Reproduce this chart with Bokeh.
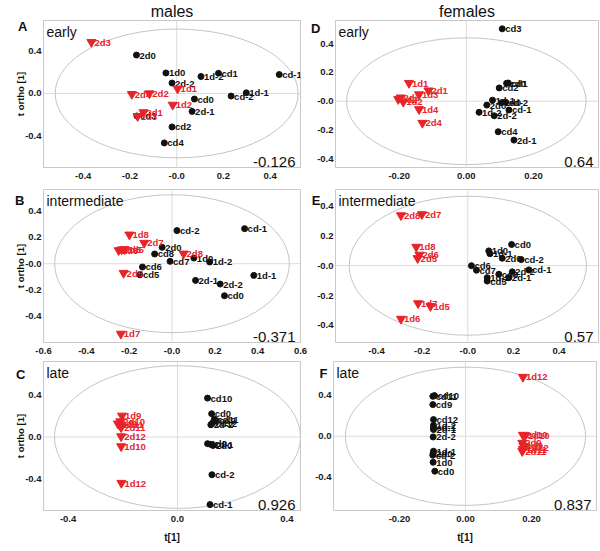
import math
from bokeh.plotting import figure
from bokeh.models import Range1d, FixedTicker, Span, Label, ColumnDataSource, LinearAxis
from bokeh.layouts import row, column
from bokeh.embed import file_html
from bokeh.resources import INLINE
from bokeh.core.properties import value

FONT = "Liberation Sans"
RED = "#e8232a"
BLACK = "#111111"

# ---------------- data ----------------
# Panel A: males, early
A_ctrl_lab = ["2d0", "1d0", "1d-2", "cd1", "cd-1", "2d-2", "cd-2", "1d-1", "cd0", "2d-1", "cd3", "cd2", "cd4"]
A_ctrl_x = [-0.172, -0.046, 0.104, 0.179, 0.439, -0.020, 0.233, 0.298, 0.076, 0.066, -0.170, -0.020, -0.053]
A_ctrl_y = [0.358, 0.191, 0.158, 0.188, 0.176, 0.097, -0.024, 0.006, -0.052, -0.167, -0.210, -0.312, -0.461]
A_trt_lab = ["2d3", "2d4", "2d2", "1d1", "1d2", "2d1", "1d3"]
A_trt_x = [-0.365, -0.192, -0.117, 0.004, -0.017, -0.142, -0.167]
A_trt_y = [0.479, -0.006, 0.000, 0.045, -0.106, -0.176, -0.212]

# Panel B: males, intermediate
B_ctrl_lab = ["cd-1", "cd-2", "2d0", "cd8", "cd7", "1d0", "1d-2", "cd6", "cd5", "2d-1", "2d-2", "1d-1", "cd0"]
B_ctrl_x = [0.339, 0.023, -0.046, -0.081, -0.009, 0.102, 0.176, -0.138, -0.150, 0.110, 0.225, 0.382, 0.245]
B_ctrl_y = [0.267, 0.252, 0.125, 0.074, 0.018, 0.043, 0.013, -0.025, -0.084, -0.127, -0.155, -0.089, -0.244]
B_trt_lab = ["1d8", "2d7", "1d6", "2d6", "1d5", "2d8", "2d5", "1d7"]
B_trt_x = [-0.199, -0.130, -0.249, -0.235, -0.222, 0.054, -0.226, -0.239]
B_trt_y = [0.221, 0.158, 0.102, 0.108, 0.110, 0.076, -0.071, -0.534]

# Panel C: males, late
C_ctrl_lab = ["cd10", "cd0", "cd11", "cd9", "cd12", "2d-2", "1d0", "1d-1", "2d0", "cd-2", "cd-1"]
C_ctrl_x = [0.110, 0.125, 0.135, 0.142, 0.128, 0.122, 0.110, 0.122, 0.130, 0.126, 0.119]
C_ctrl_y = [0.371, 0.222, 0.170, 0.155, 0.133, 0.117, -0.063, -0.070, -0.080, -0.359, -0.644]
C_trt_lab = ["1d9", "2d10", "2d9", "1d11", "2d11", "2d12", "1d10", "1d12"]
C_trt_x = [-0.203, -0.209, -0.218, -0.212, -0.206, -0.206, -0.206, -0.205]
C_trt_y = [0.203, 0.149, 0.128, 0.115, 0.092, 0.006, -0.089, -0.438]

# Panel D: females, early
D_ctrl_lab = ["cd3", "cd0", "cd1", "cd2", "1d-1", "2d0", "1d0", "cd-2", "1d-2", "2d-2", "cd-1", "cd4", "2d-1"]
D_ctrl_x = [0.107, 0.120, 0.125, 0.098, 0.078, 0.061, 0.105, 0.117, 0.038, 0.083, 0.127, 0.095, 0.142]
D_ctrl_y = [0.502, 0.124, 0.126, 0.092, 0.007, -0.027, -0.010, -0.007, -0.077, -0.101, -0.061, -0.212, -0.270]
D_trt_lab = ["1d1", "2d1", "1d3", "2d3", "2d2", "1d2", "1d4", "2d4"]
D_trt_x = [-0.171, -0.113, -0.141, -0.196, -0.203, -0.188, -0.141, -0.131]
D_trt_y = [0.126, 0.074, 0.047, 0.025, 0.014, -0.005, -0.056, -0.151]

# Panel E: females, intermediate
E_ctrl_lab = ["cd0", "1d0", "1d-1", "2d0", "cd-2", "cd6", "cd7", "2d-2", "cd-1", "cd8", "1d-2", "cd5", "2d-1"]
E_ctrl_x = [0.192, 0.092, 0.097, 0.151, 0.234, 0.016, 0.038, 0.195, 0.268, 0.136, 0.085, 0.085, 0.180]
E_ctrl_y = [0.142, 0.099, 0.080, 0.050, 0.041, 0.000, -0.030, -0.041, -0.028, -0.057, -0.080, -0.103, -0.080]
E_trt_lab = ["2d8", "2d7", "1d8", "2d6", "2d5", "1d7", "1d5", "1d6"]
E_trt_x = [-0.293, -0.201, -0.226, -0.212, -0.220, -0.218, -0.164, -0.293]
E_trt_y = [0.337, 0.344, 0.126, 0.073, 0.050, -0.252, -0.271, -0.356]

# Panel F: females, late
F_ctrl_lab = ["cd11", "cd10", "cd9", "cd12", "1d-2", "cd-1", "2d-1", "2d-2", "1d-1", "2d0", "cd-2", "1d0", "cd0"]
F_ctrl_x = [-0.099, -0.094, -0.099, -0.097, -0.097, -0.097, -0.097, -0.098, -0.097, -0.098, -0.099, -0.098, -0.093]
F_ctrl_y = [0.390, 0.397, 0.309, 0.163, 0.107, 0.085, 0.065, -0.007, -0.146, -0.169, -0.185, -0.254, -0.341]
F_trt_lab = ["1d12", "2d10", "1d10", "2d9", "1d9", "2d12", "1d11", "2d11"]
F_trt_x = [0.174, 0.174, 0.180, 0.172, 0.176, 0.178, 0.174, 0.172]
F_trt_y = [0.579, 0.013, 0.005, -0.065, -0.095, -0.105, -0.125, -0.146]

# Ellipse semi-axes (Hotelling T2) per panel
ELL_A = [0.52, 0.60]
ELL_B = [0.548, 0.525]
ELL_C = [0.45, 0.68]
ELL_D = [0.357, 0.44]
ELL_E = [0.52, 0.465]
ELL_F = [0.364, 0.675]

# Axis ranges
XR = {"A": (-0.57, 0.53), "B": (-0.6, 0.6), "C": (-0.49, 0.45),
      "D": (-0.39, 0.394), "E": (-0.58, 0.573), "F": (-0.40, 0.397)}
YR = {"A": (-0.69, 0.68), "B": (-0.60, 0.565), "C": (-0.70, 0.72),
      "D": (-0.46, 0.56), "E": (-0.514, 0.51), "F": (-0.725, 0.73)}

# Tick values / labels
TICK_5 = [-0.4, -0.2, 0.0, 0.2, 0.4]
TICK_5_LAB = ["-0.4", "-0.2", "-0.0", "0.2", "0.4"]
TICK_7 = [-0.6, -0.4, -0.2, 0.0, 0.2, 0.4, 0.6]
TICK_7_LAB = ["-0.6", "-0.4", "-0.2", "-0.0", "0.2", "0.4", "0.6"]
TICK_3 = [-0.4, 0.0, 0.4]
TICK_3_LAB = ["-0.4", "0.0", "0.4"]
TICK_3F = [-0.2, 0.0, 0.2]
TICK_3F_LAB = ["-0.20", "0.00", "0.20"]

Q_VALUES = {"A": "-0.126", "B": "-0.371", "C": "0.926", "D": "0.64", "E": "0.57", "F": "0.837"}
PHASES = {"A": "early", "B": "intermediate", "C": "late", "D": "early", "E": "intermediate", "F": "late"}
COL_TITLES = ["males", "females"]

# ---------------- geometry ----------------
COLS = [dict(bl=43, fw=257, br=8), dict(bl=25, fw=263, br=3)]
ROWS = [dict(bt=19, fh=147, bb=22), dict(bt=0, fh=153, bb=19), dict(bt=0, fh=149, bb=40)]
# panel letter: (standoff relative to outer edge of main y axis, px below frame top)
LETTER_POS = {"A": (-15, 6), "B": (-12, 11), "C": (-13, 13), "D": (-6, 8), "E": (-6, 11), "F": (-15, 12)}


def style_axis(ax, t, tl):
    ax.ticker = FixedTicker(ticks=t)
    ax.major_label_overrides = {v: s for v, s in zip(t, tl)}
    ax.axis_line_color = None
    ax.major_tick_line_color = None
    ax.minor_tick_line_color = None
    ax.major_tick_out = 0
    ax.major_tick_in = 0
    ax.major_label_text_font = FONT
    ax.major_label_text_font_style = "bold"
    ax.major_label_text_font_size = "9.5px"
    ax.major_label_text_color = "#1a1a1a"
    ax.axis_label_text_font = FONT
    ax.axis_label_text_font_style = "bold"
    ax.axis_label_text_color = BLACK


def make_panel(key, ci, ri, ctrl, trt, ell, xt, xtl, yt, ytl):
    c, r = COLS[ci], ROWS[ri]
    xs, xe = XR[key]
    ys, ye = YR[key]
    p = figure(x_range=Range1d(xs, xe), y_range=Range1d(ys, ye),
               frame_width=c["fw"], frame_height=r["fh"],
               min_border_left=c["bl"], min_border_right=c["br"],
               min_border_top=r["bt"], min_border_bottom=r["bb"],
               output_backend="svg", toolbar_location=None)
    p.grid.visible = False
    p.outline_line_color = "#c8c8c8"
    p.background_fill_color = "white"
    p.border_fill_color = "white"
    style_axis(p.xaxis[0], xt, xtl)
    style_axis(p.yaxis[0], yt, ytl)
    p.xaxis.major_label_standoff = 5
    p.yaxis.major_label_standoff = 2
    if ci == 0:
        p.yaxis.axis_label = "t ortho [1]"
        p.yaxis.axis_label_text_font_size = "9.5px"
        p.yaxis.axis_label_standoff = -4
    if ri == 2:
        p.xaxis.axis_label = "t[1]"
        p.xaxis.axis_label_text_font_size = "10px"
        p.xaxis.axis_label_standoff = 7
    if ri == 0:
        p.title.text = COL_TITLES[ci]
        p.title.align = "center"
        p.title.text_font = FONT
        p.title.text_font_size = "16px"
        p.title.text_font_style = "normal"
        p.title.text_color = BLACK
        p.title.standoff = 1

    # panel letter drawn as the single tick label of an extra left axis
    so, dy = LETTER_POS[key]
    ly = ye - dy * (ye - ys) / r["fh"]
    la = LinearAxis()
    style_axis(la, [ly], [key])
    la.major_label_text_font_size = "13px"
    la.major_label_text_color = BLACK
    la.major_label_standoff = so
    p.add_layout(la, "left")

    p.add_layout(Span(location=0, dimension="width", line_color="#dcdcdc", line_width=1, level="underlay"))
    p.add_layout(Span(location=0, dimension="height", line_color="#dcdcdc", line_width=1, level="underlay"))
    p.ellipse(x=[0], y=[0], width=[2 * ell[0]], height=[2 * ell[1]],
              fill_color=None, line_color="#c4c4c4", line_width=1)

    cs = ColumnDataSource(dict(x=ctrl[1], y=ctrl[2], t=ctrl[0]))
    ts = ColumnDataSource(dict(x=trt[1], y=trt[2], t=trt[0]))
    p.scatter("x", "y", source=cs, marker="circle", size=6, fill_color=BLACK, line_color=BLACK)
    p.text("x", "y", text="t", source=cs, x_offset=3, text_baseline="middle",
           text_font=value(FONT), text_font_style="bold", text_font_size="9.5px", text_color=BLACK)
    p.scatter("x", "y", source=ts, marker="inverted_triangle", size=9, fill_color=RED, line_color=RED)
    p.text("x", "y", text="t", source=ts, x_offset=3, text_baseline="middle",
           text_font=value(FONT), text_font_style="bold", text_font_size="9.5px", text_color=RED)

    # phase
    p.add_layout(Label(x=xs, y=ye, x_offset=3, y_offset=-3, text=PHASES[key],
                       text_baseline="top", text_align="left", text_font=FONT,
                       text_font_size="14px", text_color=BLACK))
    # Q value
    p.add_layout(Label(x=xe, y=ys, x_offset=-5, y_offset=1, text=Q_VALUES[key],
                       text_baseline="bottom", text_align="right", text_font=FONT,
                       text_font_size="15px", text_color=BLACK))
    return p


pA = make_panel("A", 0, 0, (A_ctrl_lab, A_ctrl_x, A_ctrl_y), (A_trt_lab, A_trt_x, A_trt_y), ELL_A,
                TICK_5, TICK_5_LAB, TICK_3, TICK_3_LAB)
pB = make_panel("B", 0, 1, (B_ctrl_lab, B_ctrl_x, B_ctrl_y), (B_trt_lab, B_trt_x, B_trt_y), ELL_B,
                TICK_7, TICK_7_LAB, TICK_5, TICK_5_LAB)
pC = make_panel("C", 0, 2, (C_ctrl_lab, C_ctrl_x, C_ctrl_y), (C_trt_lab, C_trt_x, C_trt_y), ELL_C,
                TICK_3, TICK_3_LAB, TICK_3, TICK_3_LAB)
pD = make_panel("D", 1, 0, (D_ctrl_lab, D_ctrl_x, D_ctrl_y), (D_trt_lab, D_trt_x, D_trt_y), ELL_D,
                TICK_3F, TICK_3F_LAB, TICK_5, TICK_5_LAB)
pE = make_panel("E", 1, 1, (E_ctrl_lab, E_ctrl_x, E_ctrl_y), (E_trt_lab, E_trt_x, E_trt_y), ELL_E,
                TICK_5, TICK_5_LAB, TICK_5, TICK_5_LAB)
pF = make_panel("F", 1, 2, (F_ctrl_lab, F_ctrl_x, F_ctrl_y), (F_trt_lab, F_trt_x, F_trt_y), ELL_F,
                TICK_3F, TICK_3F_LAB, TICK_3, TICK_3_LAB)

layout = column(row(pA, pD), row(pB, pE), row(pC, pF))

with open("out.html", "w") as f:
    f.write(file_html(layout, INLINE))
